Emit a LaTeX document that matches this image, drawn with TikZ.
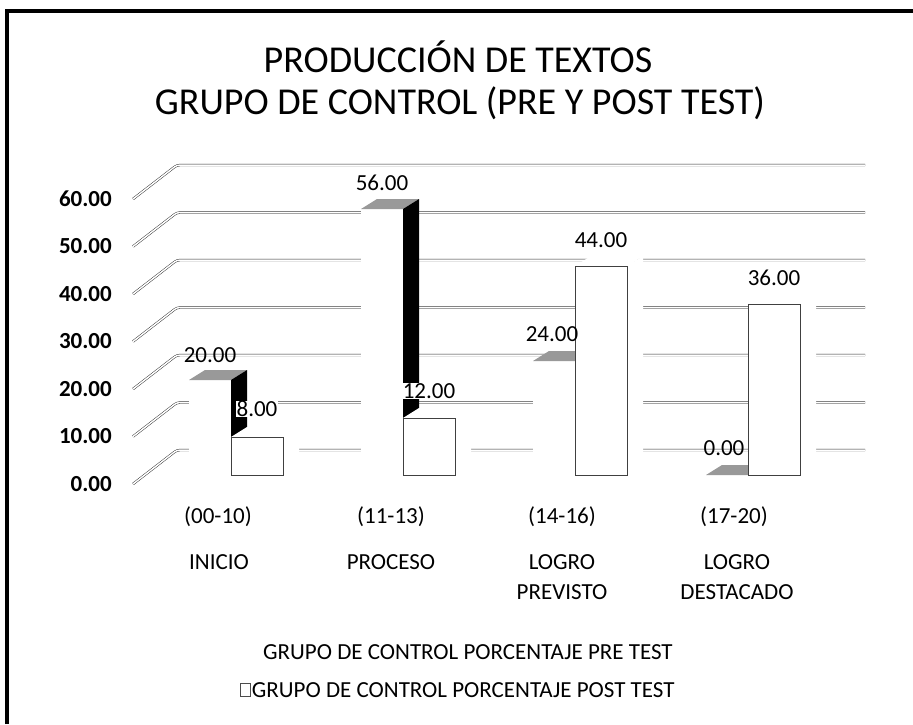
\documentclass[tikz,border=0pt]{standalone}
\usepackage{fontspec}
\setmainfont{Carlito}
\usetikzlibrary{positioning}

\begin{document}
\begin{tikzpicture}[x=1pt,y=-1pt,
  gridline/.style={draw=black!85,line width=0.45pt,double=white,double distance=1.5pt,rounded corners=3pt},
  axlabel/.style={font=\fontsize{23}{26}\selectfont\bfseries,anchor=east,inner sep=0pt},
  vallabel/.style={font=\fontsize{23}{26}\selectfont,inner sep=0pt},
  catlabel/.style={font=\fontsize{23}{30}\selectfont,align=center,inner sep=0pt},
  titlefont/.style={font=\fontsize{38}{44}\selectfont,inner sep=0pt},
  prefront/.style={fill=white},
  pretop/.style={fill=black!40},
  preside/.style={fill=black},
  postface/.style={fill=white},
  postfront/.style={draw=black!75,line width=0.5pt,fill=white}]
\useasboundingbox (0,0) rectangle (913,724);
\draw[line width=4pt] (7,724) -- (7,11) -- (913,11);

% titulo
\node[titlefont] (titulo1) at (458,57) {PRODUCCIÓN DE TEXTOS};
\node[titlefont] (titulo2) at (460,103) {GRUPO DE CONTROL (PRE Y POST TEST)};

% lineas de division
\draw[gridline] (133,199) -- (177,165) -- (865,165);
\draw[gridline] (133,246.5) -- (177,212.5) -- (865,212.5);
\draw[gridline] (133,294) -- (177,260) -- (865,260);
\draw[gridline] (133,341.5) -- (177,307.5) -- (865,307.5);
\draw[gridline] (133,389) -- (177,355) -- (865,355);
\draw[gridline] (133,436.5) -- (177,402.5) -- (865,402.5);
\draw[gridline] (133,484) -- (177,450) -- (865,450);

\node[axlabel] (y60) at (112,199) {60.00};
\node[axlabel] (y50) at (112,246.5) {50.00};
\node[axlabel] (y40) at (112,294) {40.00};
\node[axlabel] (y30) at (112,341.5) {30.00};
\node[axlabel] (y20) at (112,389) {20.00};
\node[axlabel] (y10) at (112,436.5) {10.00};
\node[axlabel] (y0) at (112,484) {0.00};

% INICIO
\fill[prefront] (189,475) rectangle (231,380);
\fill[pretop] (189,380) -- (231,380) -- (247,370) -- (205,370) -- cycle;
\fill[preside] (231,380) -- (247,370) -- (247,465) -- (231,475) -- cycle;
\fill[postface] (283,437) -- (299,427) -- (299,465) -- (283,475) -- cycle;
\fill[postface] (231,437) -- (283,437) -- (299,427) -- (247,427) -- cycle;
\draw[postfront] (231,475) rectangle (283,437);
\node[vallabel] (pre1) at (210,355) {20.00};
\node[vallabel,fill=white,inner sep=0.5pt] (post1) at (257,409) {8.00};

% PROCESO
\fill[prefront] (361,475) rectangle (403,209);
\fill[pretop] (361,209) -- (403,209) -- (419,199) -- (377,199) -- cycle;
\fill[preside] (403,209) -- (419,199) -- (419,465) -- (403,475) -- cycle;
\fill[postface] (455,418) -- (471,408) -- (471,465) -- (455,475) -- cycle;
\fill[postface] (403,418) -- (455,418) -- (471,408) -- (419,408) -- cycle;
\draw[postfront] (403,475) rectangle (455,418);
\node[vallabel] (pre2) at (382,183) {56.00};
\node[vallabel,fill=white,inner sep=0.5pt] (post2) at (429,391) {12.00};

% LOGRO PREVISTO
\fill[prefront] (533,475) rectangle (575,361);
\fill[pretop] (533,361) -- (575,361) -- (591,351) -- (549,351) -- cycle;
\fill[preside] (575,361) -- (591,351) -- (591,465) -- (575,475) -- cycle;
\fill[postface] (627,266) -- (643,256) -- (643,465) -- (627,475) -- cycle;
\fill[postface] (575,266) -- (627,266) -- (643,256) -- (591,256) -- cycle;
\draw[postfront] (575,475) rectangle (627,266);
\node[vallabel] (pre3) at (552,334) {24.00};
\node[vallabel] (post3) at (601,240) {44.00};

% LOGRO DESTACADO
\fill[pretop] (706,475) -- (748,475) -- (764,465) -- (722,465) -- cycle;
\fill[postface] (800,304) -- (816,294) -- (816,465) -- (800,475) -- cycle;
\fill[postface] (748,304) -- (800,304) -- (816,294) -- (764,294) -- cycle;
\draw[postfront] (748,475) rectangle (800,304);
\node[vallabel] (pre4) at (724,448) {0.00};
\node[vallabel] (post4) at (774,278) {36.00};

% categorias
\node[catlabel] (rango1) at (218,517) {(00-10)};
\node[catlabel] (rango2) at (391,517) {(11-13)};
\node[catlabel] (rango3) at (562,517) {(14-16)};
\node[catlabel] (rango4) at (734,517) {(17-20)};
\node[catlabel] (cat1) at (219,562) {INICIO};
\node[catlabel] (cat2) at (391,562) {PROCESO};
\node[catlabel] (cat3) at (562,577) {LOGRO\\PREVISTO};
\node[catlabel] (cat4) at (737,577) {LOGRO\\DESTACADO};

% leyenda
\node[catlabel,anchor=west] (leypre) at (263,652) {GRUPO DE CONTROL PORCENTAJE PRE TEST};
\node[draw=black!70,line width=0.5pt,minimum width=10pt,minimum height=13pt,inner sep=0pt] (clave) at (245,690) {};
\node[catlabel,right=1.5pt of clave] (leypost) {GRUPO DE CONTROL PORCENTAJE POST TEST};
\end{tikzpicture}
\end{document}
